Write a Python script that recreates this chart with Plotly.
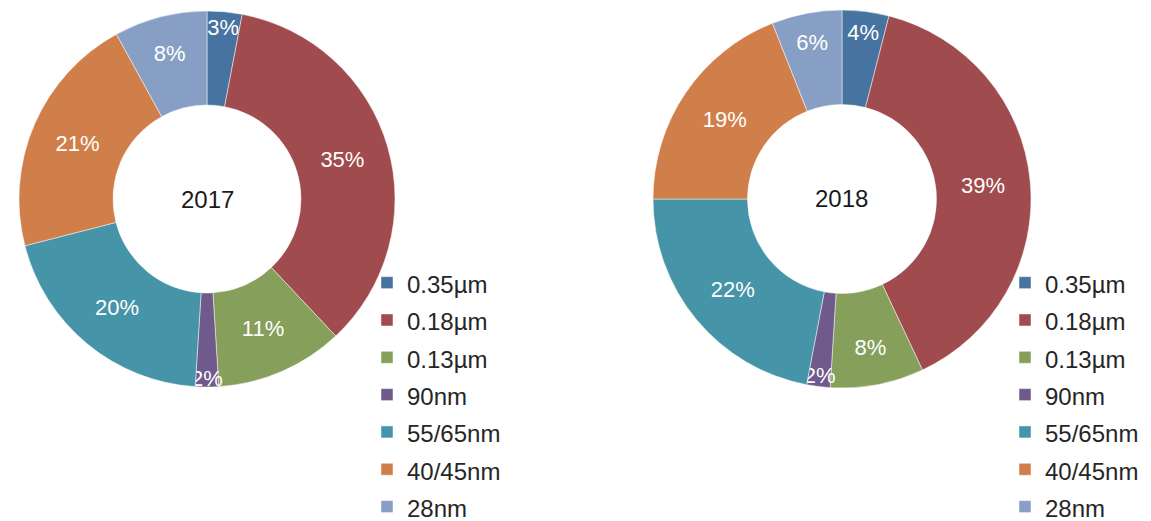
import plotly.graph_objects as go

labels = ["0.35µm", "0.18µm", "0.13µm", "90nm", "55/65nm", "40/45nm", "28nm"]
values_2017 = [3, 35, 11, 2, 20, 21, 8]
values_2018 = [4, 39, 8, 2, 22, 19, 6]
years = ["2017", "2018"]
colors = ["#46739F", "#A04B4D", "#86A05B", "#6F5A8B", "#4694A7", "#D17F4A", "#889FC5"]

W, H = 1151, 521
FONT = "Liberation Sans, Arial, sans-serif"

def px_x(x):
    return x / W

def px_y(y):
    return (H - y) / H

# slightly different (invisible) markup per chart so each legend keeps its own entries
legend_labels = [
    ['<span style="font-size:24px">%s</span>' % l for l in labels],
    ['<span style="font-size:24px;">%s</span>' % l for l in labels],
]

domains = [
    dict(x=[px_x(19), px_x(395)], y=[px_y(387), px_y(11)]),
    dict(x=[px_x(653), px_x(1031)], y=[px_y(388), px_y(10)]),
]

fig = go.Figure()
for i, (vals, yr) in enumerate(zip([values_2017, values_2018], years)):
    fig.add_trace(go.Pie(
        labels=legend_labels[i],
        values=vals,
        hole=0.5,
        sort=False,
        direction="clockwise",
        rotation=0,
        domain=domains[i],
        marker=dict(colors=colors, line=dict(color="rgba(255,255,255,0.6)", width=0.8)),
        textinfo="percent",
        texttemplate="%{percent:.0%}",
        textposition="inside",
        insidetextorientation="horizontal",
        textfont=dict(color="white", size=22, family=FONT),
        hoverinfo="skip",
        legend="legend" if i == 0 else "legend2",
        showlegend=True,
    ))
    dx = domains[i]["x"]
    dy = domains[i]["y"]
    fig.add_annotation(
        x=(dx[0] + dx[1]) / 2, y=(dy[0] + dy[1]) / 2, xref="paper", yref="paper",
        xanchor="center", yanchor="middle",
        text=yr, showarrow=False,
        font=dict(size=24, color="#1a1a1a", family=FONT),
    )

legend_common = dict(
    font=dict(size=26.4, color="#262626", family=FONT),
    bgcolor="rgba(0,0,0,0)",
    xanchor="left", yanchor="top",
    traceorder="normal",
    itemclick=False, itemdoubleclick=False,
)

fig.update_layout(
    width=W, height=H,
    margin=dict(l=0, r=0, t=0, b=0, autoexpand=False),
    paper_bgcolor="white",
    plot_bgcolor="white",
    uniformtext=dict(minsize=22, mode="show"),
    legend=dict(x=px_x(367), y=px_y(259), **legend_common),
    legend2=dict(x=px_x(1005), y=px_y(259), **legend_common),
)

fig.write_html(
    "out.html",
    config={"displayModeBar": False},
    post_script="document.body.style.margin='0px';document.body.style.overflow='hidden';",
)
